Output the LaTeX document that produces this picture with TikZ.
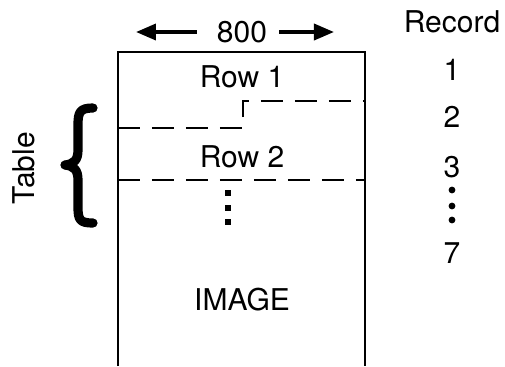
\documentclass[tikz,border=0pt]{standalone}
\usepackage{fontspec}
\setmainfont{TeX Gyre Heros}
\usepackage{tikz}
\usetikzlibrary{positioning, arrows.meta}

\begin{document}
\begin{tikzpicture}[x=0.5pt, y=-0.5pt,
    lbl/.style={inner sep=1pt, font=\fontsize{15}{18}\selectfont},
    dimarr/.style={-{Triangle[length=10pt, width=8pt]}, line width=1.8pt},
    frame/.style={line width=1.1pt},
    rowline/.style={line width=1.1pt, dash pattern=on 11pt off 6pt},
    bigbrace/.style={line width=4.6pt, line cap=round, line join=round},
    vdot/.style={rectangle, fill, inner sep=0pt, minimum size=2.6pt}]
  \useasboundingbox (0,0) rectangle (505,366);

  % image frame, open at the bottom
  \coordinate (bl) at (118,366);
  \coordinate (tl) at (118,52);
  \coordinate (tr) at (365,52);
  \coordinate (br) at (365,366);
  \draw[frame] (bl) -- (tl) -- (tr) -- (br);

  % width
  \node[lbl] (width) at (242,32) {800};
  \coordinate (wleft) at (136,32);
  \coordinate (wright) at (334,32);
  \draw[dimarr] ([xshift=-9pt]width.west) -- (wleft);
  \draw[dimarr] ([xshift=5pt]width.east) -- (wright);

  \node[lbl] (row1) at (242,77) {Row 1};
  \node[lbl] (row2) at (242,157) {Row 2};
  \node[lbl] (image) at (242,300) {IMAGE};

  % record boundaries
  \coordinate (stepa) at (243,128);
  \coordinate (stepb) at (243,101);
  \draw[rowline] (tl |- stepa) -- (stepa) -- (stepb) -- (tr |- stepb);
  \draw[rowline] (118,180) -- (365,180);

  \node[vdot] (d1) at (228,193) {};
  \node[vdot] (d2) at (228,208) {};
  \node[vdot] (d3) at (228,222) {};

  % table brace
  \draw[bigbrace] (93,108) .. controls (80,108) and (78,112) .. (78,125)
    -- (78,150) .. controls (78,160) and (74,164) .. (65,165)
    .. controls (74,166) and (78,170) .. (78,180)
    -- (78,207) .. controls (78,220) and (80,223) .. (93,223);
  \node[lbl, rotate=90] (table) at (24,168) {Table};

  % record numbers
  \node[lbl] (record) at (452,22) {Record};
  \node[lbl] (r1) at (452,70) {1};
  \node[lbl] (r2) at (452,117) {2};
  \node[lbl] (r3) at (452,167) {3};
  \node[vdot, circle, minimum size=3.4pt] (e1) at (452,190) {};
  \node[vdot, circle, minimum size=3.4pt] (e2) at (452,206) {};
  \node[vdot, circle, minimum size=3.4pt] (e3) at (452,220) {};
  \node[lbl] (r7) at (452,253) {7};
\end{tikzpicture}
\end{document}
